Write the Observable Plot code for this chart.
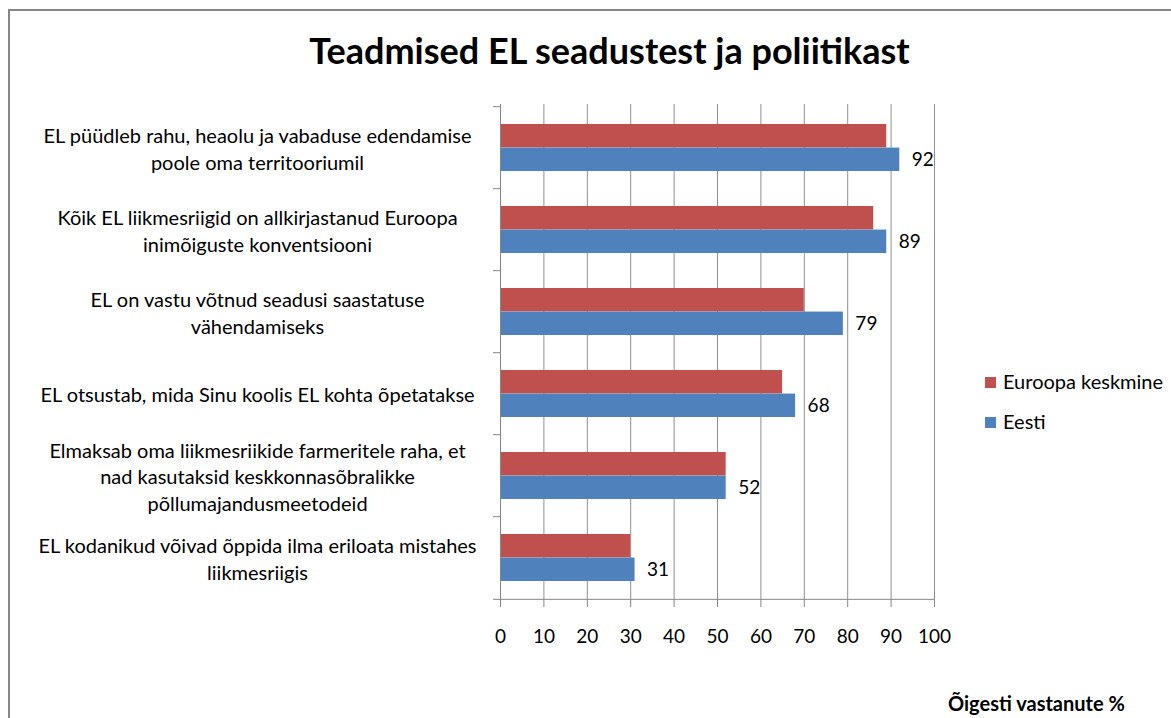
<!DOCTYPE html>
<html><head><meta charset="utf-8">
<script src="https://cdn.jsdelivr.net/npm/d3@7"></script>
<script src="https://cdn.jsdelivr.net/npm/@observablehq/plot@0.6"></script>
<style>
body{margin:0;background:#fff;font-family:Lato,sans-serif;color:#000;}
#wrap{position:relative;width:1171px;height:718px;overflow:hidden;}
#frame{position:absolute;left:8px;top:9px;width:1300px;height:900px;border-left:2px solid #868686;border-top:2px solid #868686;}
#chart{position:absolute;left:0;top:0;}
#title{position:absolute;left:0;width:1219px;top:30px;text-align:center;font-weight:bold;font-size:36px;line-height:40px;white-space:nowrap;}
.leg{position:absolute;left:985px;font-size:20px;line-height:22px;white-space:nowrap;}
.leg span.sw{display:inline-block;width:11px;height:11px;margin-right:7px;vertical-align:1px;}
#xlabel{position:absolute;left:948px;top:691px;font-weight:bold;font-size:20px;line-height:24px;white-space:nowrap;}
</style></head>
<body>
<div id="wrap">
  <div id="frame"></div>
  <div id="chart"></div>
  <div id="title"></div>
  <div id="legend"></div>
  <div id="xlabel"></div>
</div>
<script>
const title = "Teadmised EL seadustest ja poliitikast";
const xTitle = "Õigesti vastanute %";
const categories = [
  "EL püüdleb rahu, heaolu ja vabaduse edendamise\npoole oma territooriumil",
  "Kõik EL liikmesriigid on allkirjastanud Euroopa\ninimõiguste konventsiooni",
  "EL on vastu võtnud seadusi saastatuse\nvähendamiseks",
  "EL otsustab, mida Sinu koolis EL kohta õpetatakse",
  "Elmaksab oma liikmesriikide farmeritele raha, et\nnad kasutaksid keskkonnasõbralikke\npõllumajandusmeetodeid",
  "EL kodanikud võivad õppida ilma eriloata mistahes\nliikmesriigis"
];
const europe = [89, 86, 70, 65, 52, 30];
const eesti = [92, 89, 79, 68, 52, 31];
const seriesNames = ["Euroopa keskmine", "Eesti"];
const seriesColors = ["#C0504D", "#4F81BD"];
const xTicks = [0, 10, 20, 30, 40, 50, 60, 70, 80, 90, 100];

const W = 1171, H = 718;
const mL = 500, mR = 237, mT = 104, mB = 118;
const pad = 0.43;
const step = (H - mT - mB) / categories.length;
const bw = step * (1 - pad);

const rows = categories.map((c, i) => ({category: c, europe: europe[i], eesti: eesti[i]}));

const chart = Plot.plot({
  width: W, height: H,
  marginLeft: mL, marginRight: mR, marginTop: mT, marginBottom: mB,
  style: {fontFamily: "Lato, sans-serif", fontSize: "19px", background: "transparent", color: "#000"},
  x: {domain: [0, 100], axis: null},
  y: {domain: categories, paddingInner: pad, paddingOuter: pad / 2, axis: null},
  marks: [
    Plot.ruleX(xTicks, {x: d => d, stroke: "#8f8f8f", strokeWidth: 1}),
    Plot.barX(rows, {y: "category", x: "europe", fill: seriesColors[0], insetBottom: bw / 2}),
    Plot.barX(rows, {y: "category", x: "eesti", fill: seriesColors[1], insetTop: bw / 2}),
    Plot.ruleX([0], {stroke: "#868686", strokeWidth: 1}),
    Plot.ruleY(categories, {y: d => d, dy: -step / 2, x1: 0, x2: 0, insetLeft: -7, stroke: "#868686"}),
    Plot.ruleY(categories.slice(-1), {y: d => d, dy: step / 2, x1: 0, x2: 100, insetLeft: -7, stroke: "#868686"}),
    Plot.axisX({ticks: xTicks, tickSize: 7, tickPadding: 22, stroke: "#868686", fill: "#000", fontSize: 19, tickFormat: d => String(d)}),
    Plot.text(rows, {y: "category", x: "eesti", text: d => String(d.eesti), textAnchor: "start", dx: 12, dy: bw / 4, fill: "#000", fontSize: 19}),
    Plot.text(categories, {y: d => d, text: d => d, frameAnchor: "left", dx: -243, textAnchor: "middle", lineHeight: 1.32, fill: "#000", fontSize: 20})
  ]
});
document.getElementById("chart").appendChild(chart);
document.getElementById("title").textContent = title;
document.getElementById("xlabel").textContent = xTitle;
const legend = document.getElementById("legend");
seriesNames.forEach((name, i) => {
  const d = document.createElement("div");
  d.className = "leg";
  d.style.top = (370 + i * 40) + "px";
  d.innerHTML = `<span class="sw" style="background:${seriesColors[i]}"></span>${name}`;
  legend.appendChild(d);
});
</script>
</body></html>
